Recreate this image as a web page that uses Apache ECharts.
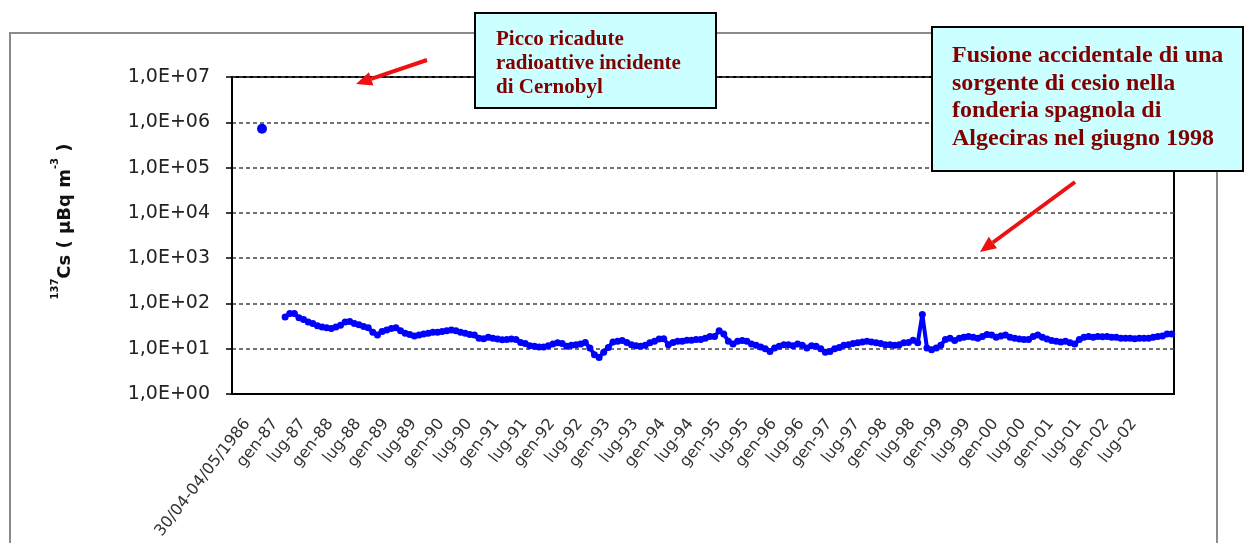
<!DOCTYPE html>
<html>
<head>
<meta charset="utf-8">
<script src="https://cdn.jsdelivr.net/npm/echarts@6/dist/echarts.min.js"></script>
<style>
  html, body { margin: 0; padding: 0; background: #fff; }
  #main { width: 1246px; height: 543px; }
</style>
</head>
<body>
<div id="main"></div>
<script>
  // 137Cs in aria, medie mensili (µBq m-3)
  const chernobylLabel = '30/04-04/05/1986'
  const chernobylPeak = 7.2e5
  const monthNames = ['gen', 'feb', 'mar', 'apr', 'mag', 'giu', 'lug', 'ago', 'set', 'ott', 'nov', 'dic']
  const firstYear = 1986
  const lastYear = 2002

  const dec1986 = [50]
  const cs1987 = [60, 60, 48, 44, 39, 36, 32, 30, 29, 28, 30, 33]
  const cs1988 = [39, 40, 36, 34, 31, 29, 23, 20, 24, 26, 28, 29]
  const cs1989 = [25, 22, 20.5, 19, 20, 21, 22, 23, 23, 24, 25, 26]
  const cs1990 = [25, 23, 22, 20.5, 20, 17, 16.7, 18, 17, 16.4, 15.8, 16]
  const cs1991 = [16.4, 16, 13.8, 13, 11.7, 11.4, 10.9, 10.9, 11.7, 12.7, 13.5, 13]
  const cs1992 = [11.4, 12, 12.3, 12.7, 13.8, 10.4, 7.4, 6.4, 8.4, 10.7, 14, 14.6]
  const cs1993 = [15.2, 13.8, 12.3, 11.7, 11.4, 12, 13.5, 14.6, 16.4, 16.7, 12.3, 13.8]
  const cs1994 = [14.6, 14.6, 15.3, 15.3, 16, 16, 17, 18.6, 18.5, 25, 21, 14.6]
  const cs1995 = [12.7, 14.6, 15.2, 14.6, 12.7, 12, 10.9, 10, 8.7, 10.4, 11.4, 12.3]
  const cs1996 = [12.3, 11.7, 12.7, 12, 10.4, 11.7, 11.4, 10, 8.4, 8.7, 10, 10.7]
  const cs1997 = [12, 12.3, 13, 13.5, 14, 14.6, 14, 13.5, 13, 12.3, 12.3, 12]
  const cs1998 = [12.3, 13.5, 13.8, 15.3, 13.5, 57, 10.4, 9.5, 10.4, 12, 16, 17]
  const cs1999 = [15.2, 17, 18, 18.6, 18, 17, 18.6, 20.5, 20, 18, 19, 20]
  const cs2000 = [18, 17, 16.4, 16, 16, 18.6, 20, 18, 16.4, 15.2, 14.6, 14]
  const cs2001 = [14.6, 13.5, 12.7, 16, 18, 18.6, 18, 18.6, 18.3, 18.6, 18, 18]
  const cs2002 = [17, 17, 17, 16.7, 17, 17, 17, 18, 18.6, 19, 21, 21]

  const yExponents = [0, 1, 2, 3, 4, 5, 6, 7]

  const monthly = [].concat(dec1986, cs1987, cs1988, cs1989, cs1990, cs1991, cs1992, cs1993,
    cs1994, cs1995, cs1996, cs1997, cs1998, cs1999, cs2000, cs2001, cs2002)

  // one category per month, gen-86 .. dic-02; the fallout point sits in slot 6
  let categories = []
  for (let y = firstYear; y <= lastYear; y++) {
    monthNames.forEach(function (m) {
      categories.push(m + '-' + String(y % 100).padStart(2, '0'))
    })
  }
  const chernobylIdx = 6
  categories[chernobylIdx] = chernobylLabel
  const firstMonthIdx = categories.length - monthly.length

  let values = categories.map(function () { return null })
  values[chernobylIdx] = { value: chernobylPeak, symbolSize: 10 }
  monthly.forEach(function (v, i) { values[firstMonthIdx + i] = v })

  function arrow(x1, y1, x2, y2) {
    let a = Math.atan2(y2 - y1, x2 - x1)
    let len = 16, half = 7
    let bx = x2 - len * Math.cos(a), by = y2 - len * Math.sin(a)
    return {
      type: 'group',
      children: [
        { type: 'line', z: 100, shape: { x1: x1, y1: y1, x2: bx, y2: by }, style: { stroke: '#ee1111', lineWidth: 4 } },
        { type: 'polygon', z: 100, shape: { points: [[x2, y2],
          [bx + half * Math.sin(a), by - half * Math.cos(a)],
          [bx - half * Math.sin(a), by + half * Math.cos(a)]] }, style: { fill: '#ee1111' } }
      ]
    }
  }

  let chart = echarts.init(document.getElementById('main'))
  chart.setOption({
    animation: false,
    backgroundColor: '#fff',
    grid: {
      left: 232, right: 72, top: 77, bottom: 149,
      show: true, borderColor: '#000', borderWidth: 2, backgroundColor: '#fff'
    },
    xAxis: {
      type: 'category',
      data: categories,
      boundaryGap: true,
      axisLine: { lineStyle: { color: '#000', width: 2 } },
      axisTick: {
        interval: function (idx) { return idx % 6 === 0 },
        length: 5,
        lineStyle: { color: '#000', width: 1.5 }
      },
      axisLabel: {
        interval: function (idx) { return idx >= chernobylIdx && idx % 6 === 0 },
        rotate: 52,
        margin: 8,
        padding: [0, 24, 0, 0],
        color: '#333',
        fontFamily: 'DejaVu Sans',
        fontSize: 16
      },
      splitLine: { show: false }
    },
    yAxis: {
      type: 'log',
      logBase: 10,
      min: Math.pow(10, yExponents[0]),
      max: Math.pow(10, yExponents[yExponents.length - 1]),
      axisLine: { show: true, lineStyle: { color: '#000', width: 2 } },
      axisTick: { show: true, length: 6, lineStyle: { color: '#000', width: 1.5 } },
      axisLabel: {
        color: '#222',
        fontFamily: 'DejaVu Sans',
        fontSize: 19,
        margin: 22,
        formatter: function (v) {
          return '1,0E+' + String(Math.round(Math.log10(v))).padStart(2, '0')
        }
      },
      splitLine: { lineStyle: { color: '#444', type: [4, 3], width: 1.5 } },
      minorTick: { show: false },
      name: '{sup|137}{b|Cs ( µBq m}{sup|-3}{b| )}',
      nameLocation: 'middle',
      nameGap: 158,
      nameTextStyle: {
        padding: [0, 0, 0, 28],
        rich: {
          b: { fontFamily: 'DejaVu Sans', fontWeight: 'bold', fontSize: 18, color: '#111', lineHeight: 24, verticalAlign: 'bottom' },
          sup: { fontFamily: 'DejaVu Sans', fontWeight: 'bold', fontSize: 10, color: '#111', lineHeight: 24, verticalAlign: 'top' }
        }
      }
    },
    series: [{
      type: 'line',
      data: values,
      connectNulls: false,
      showAllSymbol: true,
      symbol: 'circle',
      symbolSize: 7,
      itemStyle: { color: '#0000ff' },
      lineStyle: { color: '#0000ff', width: 4 }
    }],
    graphic: [
      { type: 'rect', z: 1, shape: { x: 10, y: 33, width: 1207, height: 600 },
        style: { fill: 'none', stroke: '#8a8a8a', lineWidth: 2 } },
      { type: 'group', children: [
        { type: 'rect', z: 100, shape: { x: 475, y: 13, width: 241, height: 95 },
          style: { fill: '#ccffff', stroke: '#000', lineWidth: 2 } },
        { type: 'text', z: 101, x: 496, y: 28, style: {
          text: 'Picco ricadute\nradioattive incidente\ndi Cernobyl',
          font: 'bold 21px "Liberation Serif"', fill: '#800000', lineHeight: 24, verticalAlign: 'top' } }
      ] },
      { type: 'group', children: [
        { type: 'rect', z: 100, shape: { x: 932, y: 27, width: 311, height: 144 },
          style: { fill: '#ccffff', stroke: '#000', lineWidth: 2 } },
        { type: 'text', z: 101, x: 952, y: 42, style: {
          text: 'Fusione accidentale di una\nsorgente di cesio nella\nfonderia spagnola di\nAlgeciras nel giugno 1998',
          font: 'bold 24px "Liberation Serif"', fill: '#800000', lineHeight: 27.6, verticalAlign: 'top' } }
      ] },
      arrow(427, 60, 356, 84),
      arrow(1075, 182, 980, 252)
    ]
  })
</script>
</body>
</html>
